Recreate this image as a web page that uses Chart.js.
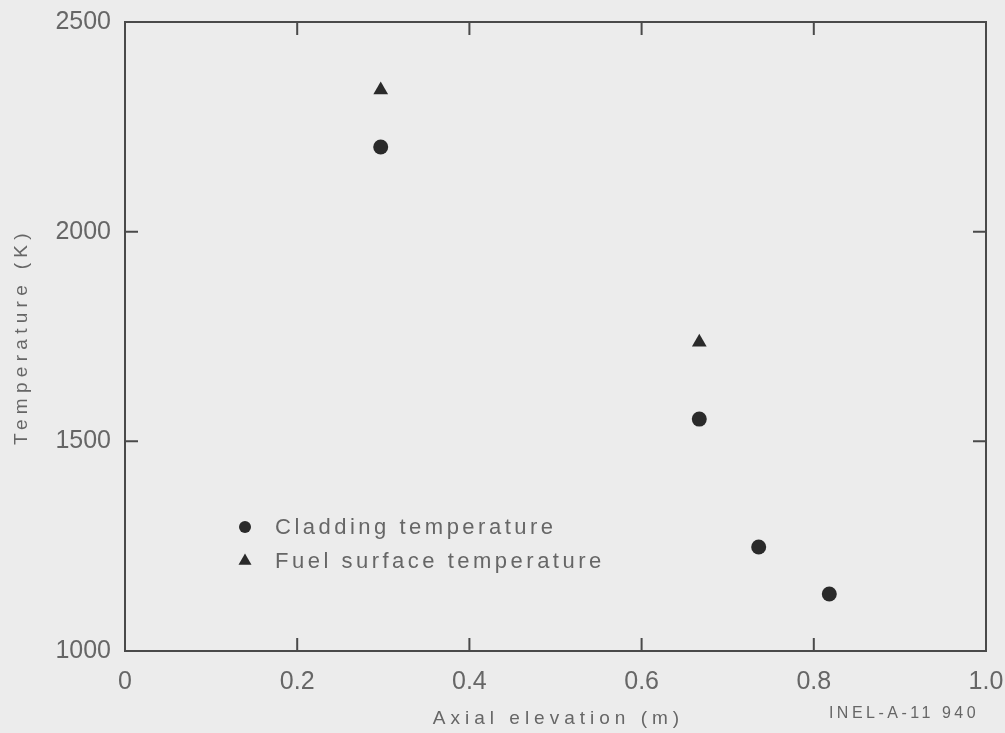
<!DOCTYPE html>
<html>
<head>
<meta charset="utf-8">
<script src="https://cdn.jsdelivr.net/npm/chart.js@4/dist/chart.umd.min.js"></script>
<style>
  html, body { margin: 0; padding: 0; background: #ececec; }
  #wrap { width: 1005px; height: 733px; }
</style>
</head>
<body>
<div id="wrap"><canvas id="myChart" width="1005" height="733"></canvas></div>
<script>
// values
const cladX = [0.297, 0.667, 0.736, 0.818];
const cladT = [2202, 1553, 1248, 1136];
const fuelX = [0.297, 0.667];
const fuelT = [2338, 1736];

const xTicks = [0, 0.2, 0.4, 0.6, 0.8, 1.0];
const yTicks = [1000, 1500, 2000, 2500];

const seriesLabels = ['Cladding temperature', 'Fuel surface temperature'];
const xTitle = 'Axial elevation (m)';
const yTitle = 'Temperature (K)';
const figId = 'INEL-A-11 940';

const ink = '#2a2a2a';
const axisCol = '#4a4a4a';
const textCol = '#666666';
const fontFam = '"Liberation Sans", Arial, Helvetica, sans-serif';

const toPts = (xs, ys) => xs.map((x, i) => ({ x: x, y: ys[i] }));

// frame, inward ticks, titles and legend
const decor = {
  id: 'decor',
  afterDatasetsDraw(chart) {
    const ctx = chart.ctx;
    const a = chart.chartArea;
    const xs = chart.scales.x, ys = chart.scales.y;
    const tl = 13;
    ctx.save();
    ctx.strokeStyle = axisCol;
    ctx.lineWidth = 2;
    ctx.strokeRect(a.left, a.top, a.right - a.left, a.bottom - a.top);
    ctx.beginPath();
    xTicks.slice(1, -1).forEach(v => {
      const px = xs.getPixelForValue(v);
      ctx.moveTo(px, a.bottom); ctx.lineTo(px, a.bottom - tl);
      ctx.moveTo(px, a.top); ctx.lineTo(px, a.top + tl);
    });
    yTicks.slice(1, -1).forEach(v => {
      const py = ys.getPixelForValue(v);
      ctx.moveTo(a.left, py); ctx.lineTo(a.left + tl, py);
      ctx.moveTo(a.right, py); ctx.lineTo(a.right - tl, py);
    });
    ctx.stroke();

    // axis titles
    ctx.fillStyle = textCol;
    ctx.textAlign = 'center';
    ctx.textBaseline = 'middle';
    ctx.letterSpacing = '5px';
    ctx.font = '19px ' + fontFam;
    ctx.fillText(xTitle, (a.left + a.right) / 2 + 3, 719);
    ctx.save();
    ctx.translate(22, (a.top + a.bottom) / 2);
    ctx.rotate(-Math.PI / 2);
    ctx.letterSpacing = '5.3px';
    ctx.fillText(yTitle, 0, 0);
    ctx.restore();

    ctx.letterSpacing = '3.5px';
    ctx.font = '16px ' + fontFam;
    ctx.fillText(figId, 904, 714);

    // legend inside the plot
    ctx.textAlign = 'left';
    ctx.letterSpacing = '3.5px';
    ctx.font = '22px ' + fontFam;
    const rows = [
      { style: 'circle', r: 6, y: 527 },
      { style: 'triangle', r: 7.5, y: 561 }
    ];
    rows.forEach((row, i) => {
      ctx.fillStyle = ink;
      Chart.helpers.drawPoint(ctx, { pointStyle: row.style, radius: row.r, rotation: 0, borderWidth: 0 }, 245, row.y);
      ctx.fillStyle = textCol;
      ctx.fillText(seriesLabels[i], 275, row.y + 1);
    });
    ctx.restore();
  }
};

const ctx = document.getElementById('myChart');

new Chart(ctx, {
  type: 'scatter',
  data: {
    datasets: [
      {
        label: seriesLabels[0],
        data: toPts(cladX, cladT),
        pointStyle: 'circle',
        pointRadius: 7.5,
        pointBackgroundColor: ink,
        pointBorderWidth: 0
      },
      {
        label: seriesLabels[1],
        data: toPts(fuelX, fuelT),
        pointStyle: 'triangle',
        pointRadius: 8.5,
        pointBackgroundColor: ink,
        pointBorderWidth: 0
      }
    ]
  },
  options: {
    responsive: false,
    animation: false,
    events: [],
    layout: { padding: { left: 0, right: 19, top: 22, bottom: 0 } },
    plugins: {
      legend: { display: false },
      tooltip: { enabled: false }
    },
    scales: {
      x: {
        type: 'linear',
        min: 0,
        max: 1,
        afterFit: s => { s.height = 82; s.paddingLeft = 0; s.paddingRight = 0; },
        afterBuildTicks: s => { s.ticks = xTicks.map(v => ({ value: v })); },
        grid: { display: false, drawTicks: false },
        border: { display: false },
        ticks: {
          padding: 16,
          color: textCol,
          font: { family: fontFam, size: 25 },
          maxRotation: 0,
          callback: v => (v === 0 ? '0' : v.toFixed(1))
        }
      },
      y: {
        type: 'linear',
        min: 1000,
        max: 2500,
        afterFit: s => { s.width = 125; s.paddingTop = 0; s.paddingBottom = 0; },
        afterBuildTicks: s => { s.ticks = yTicks.map(v => ({ value: v })); },
        grid: { display: false, drawTicks: false },
        border: { display: false },
        ticks: {
          padding: 14,
          color: textCol,
          font: { family: fontFam, size: 25 },
          callback: v => String(v)
        }
      }
    }
  },
  plugins: [decor]
});
</script>
</body>
</html>
